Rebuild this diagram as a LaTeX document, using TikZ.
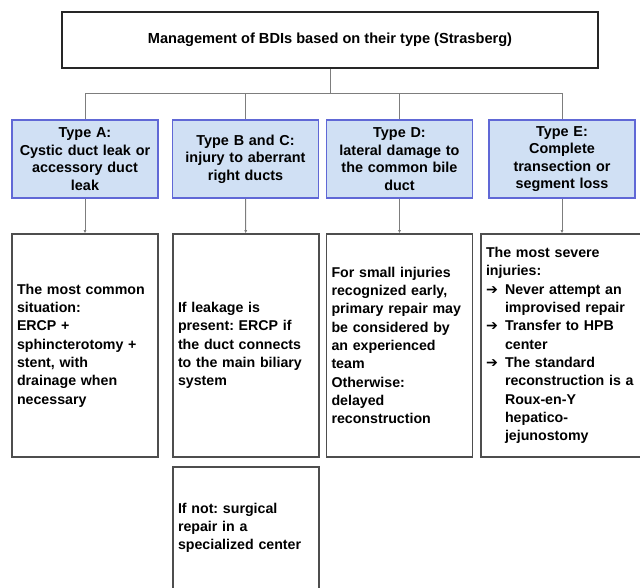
\documentclass[tikz,border=0pt]{standalone}
\usepackage{fontspec}
\setmainfont{Liberation Sans}
\newfontfamily\symfont{DejaVu Sans}
\usepackage{tikz}
\usetikzlibrary{arrows.meta,positioning,calc}
\definecolor{TypeFill}{RGB}{208,224,244}
\definecolor{TypeLine}{RGB}{96,104,214}
\definecolor{CareLine}{RGB}{78,78,78}
\definecolor{LinkGray}{RGB}{125,125,125}
\newcommand{\bdiarrow}{\makebox[19pt][l]{\symfont\bfseries\char"2794}}
\frenchspacing

\begin{document}
\begin{tikzpicture}[
  x=1pt,y=-1pt,
  head/.style={
    draw=black!85,line width=1.6pt,minimum width=536pt,minimum height=56pt,
    font=\bfseries\fontsize{14.6}{17}\selectfont
  },
  typebox/.style={
    draw=TypeLine,fill=TypeFill,line width=1.6pt,align=center,
    text width=142pt,minimum height=78pt,inner sep=2pt,
    font=\bfseries\fontsize{14.4}{17.5}\selectfont
  },
  care/.style={
    draw=CareLine,line width=1.6pt,align=left,
    text width=136pt,minimum height=223pt,inner xsep=5pt,
    font=\bfseries\fontsize{14.2}{18.3}\selectfont
  },
  tree/.style={LinkGray,line width=1pt},
  link/.style={-{Latex[length=3pt,width=3pt]},LinkGray,line width=1pt}
]
  \useasboundingbox (0,0) rectangle (640,587);
  \clip (0,0) rectangle (640,587);

  \node[head] (title) at (330,40)
    {Management of BDIs based on their type (Strasberg)};
  \coordinate (hub) at (330,93);

  \node[typebox] (typeA) at (85,159)
    {Type A:\\Cystic duct leak or\\accessory duct\\leak};
  \node[typebox] (typeB) at (245.5,159)
    {Type B and C:\\injury to aberrant\\right ducts};
  \node[typebox] (typeD) at (399.5,159)
    {Type D:\\lateral damage to\\the common bile\\duct};
  \node[typebox] (typeE) at (562,159)
    {Type E:\\Complete\\transection or\\segment loss};

  \node[care] (careA) at (85,345.5)
    {The most common\\situation:\\ERCP +\\sphincterotomy +\\stent, with\\drainage when\\necessary};
  \node[care] (careB) at (246,345.5)
    {If leakage is\\present: ERCP if\\the duct connects\\to the main biliary\\system};
  \node[care] (careD) at (399.5,345.5)
    {For small injuries\\recognized early,\\primary repair may\\be considered by\\an experienced\\team\\Otherwise:\\delayed\\reconstruction};
  \node[care,text width=168pt] (careE) at (570,345.5)
    {The most severe\\injuries:\\
     \bdiarrow Never attempt an\\\hspace*{19pt}improvised repair\\
     \bdiarrow Transfer to HPB\\\hspace*{19pt}center\\
     \bdiarrow The standard\\\hspace*{19pt}reconstruction is a\\\hspace*{19pt}Roux-en-Y\\
     \hspace*{19pt}hepatico-\\\hspace*{19pt}jejunostomy};
  \node[care,minimum height=122pt] (careB2) at (246,528)
    {If not: surgical\\repair in a\\specialized center};

  \draw[tree] (title) -- (hub);
  \foreach \t in {typeA,typeB,typeD,typeE}
    \draw[tree] (hub) -| (\t.north);

  \draw[link] (typeA) -- (careA);
  \draw[link] (typeB) -- (careB);
  \draw[link] (typeD) -- (careD);
  \draw[link] (typeE.south) -- (typeE.south |- careE.north);
\end{tikzpicture}
\end{document}
